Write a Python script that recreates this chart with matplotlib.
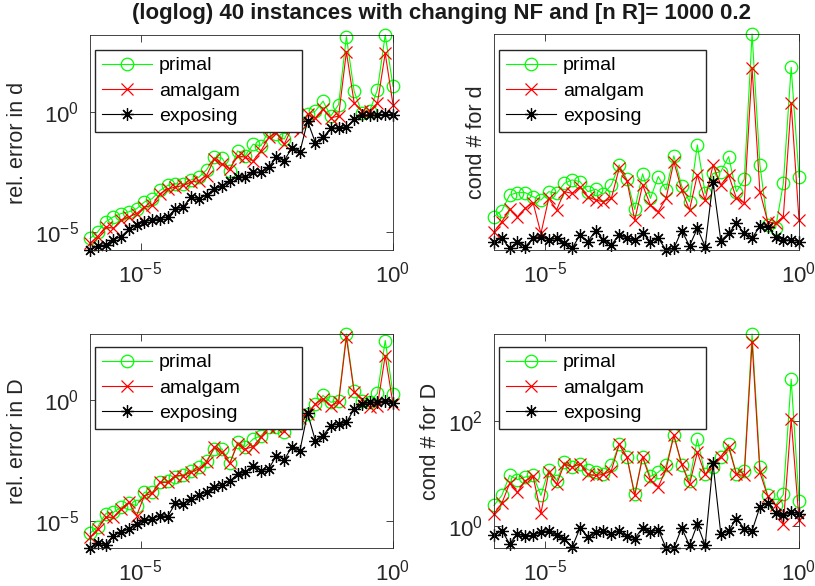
import matplotlib
matplotlib.use('Agg')
import matplotlib.pyplot as plt
import numpy as np
from matplotlib.ticker import FixedLocator, NullLocator, LogFormatterSciNotation

plt.rcParams['font.family'] = ['Liberation Sans', 'DejaVu Sans']
plt.rcParams['mathtext.fontset'] = 'custom'
plt.rcParams['mathtext.rm'] = 'Liberation Sans'
plt.rcParams['mathtext.it'] = 'Liberation Sans:italic'
plt.rcParams['mathtext.bf'] = 'Liberation Sans:bold'

# ---- data (log10 of values) ----
nf_log10 = [-6.000, -5.846, -5.692, -5.538, -5.385, -5.231, -5.077, -4.923, -4.769, -4.615,
            -4.462, -4.308, -4.154, -4.000, -3.846, -3.692, -3.538, -3.385, -3.231, -3.077,
            -2.923, -2.769, -2.615, -2.462, -2.308, -2.154, -2.000, -1.846, -1.692, -1.538,
            -1.385, -1.231, -1.077, -0.923, -0.769, -0.615, -0.462, -0.308, -0.154, 0.000]

# rel. error in d
err_d_primal = [-5.28, -5.00, -4.59, -4.38, -4.24, -4.17, -4.04, -3.76, -3.62, -3.28,
                -3.07, -3.00, -3.00, -2.84, -2.73, -2.42, -1.90, -1.93, -2.45, -1.63,
                -1.83, -1.35, -1.42, -0.80, -0.94, -1.14, -0.52, -0.45, -0.11, 0.03,
                0.44, -0.18, 0.30, 3.13, 0.85, -0.04, 0.03, 0.92, 3.20, 1.06]
err_d_amalgam = [-5.48, -5.20, -4.79, -4.86, -4.52, -4.38, -4.24, -3.97, -3.90, -3.42,
                 -3.21, -3.14, -3.07, -2.93, -2.87, -2.66, -1.97, -2.18, -2.38, -1.83,
                 -1.90, -2.04, -1.63, -1.07, -0.87, -1.35, -0.66, -0.80, -0.11, -0.25,
                 0.10, -0.25, -0.18, 2.50, 0.37, 0.03, 0.03, 0.37, 2.44, 0.30]
err_d_exposing = [-5.76, -5.59, -5.55, -5.34, -5.20, -4.90, -4.72, -4.59, -4.49, -4.45,
                  -4.38, -4.04, -3.97, -3.55, -3.62, -3.48, -3.21, -3.11, -2.87, -2.73,
                  -2.70, -2.52, -2.52, -2.31, -1.90, -2.04, -1.49, -1.69, -0.39, -1.28,
                  -1.07, -0.69, -0.66, -0.63, -0.32, -0.15, -0.15, -0.15, -0.11, -0.14]

# cond # for d
cond_d_primal = [1.239, 1.264, 1.329, 1.339, 1.339, 1.322, 1.308, 1.343, 1.336, 1.378,
                 1.392, 1.385, 1.343, 1.353, 1.333, 1.371, 1.454, 1.394, 1.269, 1.417,
                 1.315, 1.406, 1.350, 1.492, 1.367, 1.301, 1.538, 1.336, 1.419, 1.426,
                 1.489, 1.343, 1.394, 2.000, 1.454, 1.204, 1.190, 1.378, 1.861, 1.403]
cond_d_amalgam = [1.176, 1.218, 1.269, 1.239, 1.274, 1.297, 1.169, 1.315, 1.267, 1.343,
                  1.336, 1.364, 1.322, 1.308, 1.301, 1.315, 1.440, 1.389, 1.225, 1.371,
                  1.288, 1.260, 1.315, 1.468, 1.350, 1.267, 1.413, 1.308, 1.454, 1.371,
                  1.413, 1.315, 1.297, 1.857, 1.343, 1.218, 1.211, 1.239, 1.711, 1.225]
cond_d_exposing = [1.135, 1.149, 1.107, 1.135, 1.114, 1.149, 1.156, 1.142, 1.149, 1.131,
                   1.107, 1.163, 1.135, 1.181, 1.142, 1.121, 1.163, 1.149, 1.142, 1.169,
                   1.135, 1.149, 1.100, 1.107, 1.181, 1.117, 1.190, 1.114, 1.385, 1.139,
                   1.169, 1.211, 1.169, 1.149, 1.200, 1.197, 1.156, 1.142, 1.142, 1.135]

# rel. error in D
err_D_primal = [-5.52, -5.25, -4.72, -4.66, -4.45, -4.28, -4.38, -3.83, -3.83, -3.42,
                -3.35, -3.21, -3.10, -2.93, -2.80, -2.52, -2.04, -2.04, -2.63, -1.76,
                -1.94, -1.63, -1.49, -1.14, -1.14, -1.35, -0.87, -0.75, -0.59, -0.18,
                0.17, -0.11, -0.04, 2.71, 0.37, -0.04, -0.11, 0.26, 2.44, 0.23]
err_D_amalgam = [-5.69, -5.34, -4.86, -4.86, -4.52, -4.24, -4.79, -3.97, -3.87, -3.42,
                 -3.42, -3.14, -3.14, -3.00, -2.87, -2.59, -1.97, -2.18, -2.63, -1.83,
                 -2.04, -1.94, -1.56, -1.14, -1.14, -1.28, -0.87, -0.75, -0.59, -0.18,
                 0.03, -0.25, -0.11, 2.58, 0.30, 0.03, -0.32, -0.25, 1.82, -0.18]
err_D_exposing = [-6.13, -5.94, -5.99, -5.62, -5.48, -5.34, -5.14, -4.97, -4.93, -4.79,
                  -4.83, -4.28, -4.31, -4.10, -3.93, -3.83, -3.60, -3.51, -3.37, -3.07,
                  -3.00, -2.73, -2.93, -2.87, -2.31, -2.49, -1.94, -2.13, -0.56, -1.69,
                  -1.49, -1.07, -1.00, -0.94, -0.39, -0.18, -0.11, -0.11, -0.04, -0.15]

# cond # for D
cond_D_primal = [0.40, 0.59, 0.97, 0.89, 0.94, 0.97, 0.59, 1.08, 0.87, 1.22,
                 1.13, 1.19, 1.08, 1.03, 0.99, 1.16, 1.56, 1.32, 0.62, 1.33,
                 0.95, 1.03, 1.16, 1.73, 1.16, 0.87, 1.66, 0.99, 1.13, 1.32,
                 1.56, 1.00, 1.05, 3.66, 1.14, 0.59, 0.40, 0.61, 2.80, 0.49]
cond_D_amalgam = [0.24, 0.44, 0.82, 0.65, 0.87, 0.95, 0.25, 1.03, 0.80, 1.19,
                  1.13, 1.19, 0.99, 0.97, 0.99, 1.06, 1.56, 1.32, 0.59, 1.32,
                  0.89, 0.75, 1.09, 1.73, 1.19, 0.80, 1.41, 0.99, 1.19, 1.33,
                  1.51, 0.99, 0.97, 3.50, 1.03, 0.57, 0.40, 0.04, 2.04, 0.13]
cond_D_exposing = [-0.17, -0.08, -0.33, -0.14, -0.19, -0.17, -0.11, -0.08, -0.17, -0.23,
                   -0.39, -0.03, -0.20, -0.11, -0.09, -0.14, -0.09, -0.19, -0.23, -0.03,
                   -0.11, -0.06, -0.41, -0.41, -0.03, -0.36, 0.04, -0.36, 1.20, -0.14,
                   -0.09, 0.15, -0.04, -0.08, 0.37, 0.44, 0.25, 0.21, 0.27, 0.24]

series_labels = ['primal', 'amalgam', 'exposing']
ylabels = ['rel. error in d', 'cond # for d', 'rel. error in D', 'cond # for D']
title = '(loglog) 40 instances with changing NF and [n R]= 1000 0.2'

panels = [
    (err_d_primal, err_d_amalgam, err_d_exposing),
    (cond_d_primal, cond_d_amalgam, cond_d_exposing),
    (err_D_primal, err_D_amalgam, err_D_exposing),
    (cond_D_primal, cond_D_amalgam, cond_D_exposing),
]
yticks = [[1e-5, 1e0], [], [1e-5, 1e0], [1e0, 1e2]]
xticks = [1e-5, 1e0]

W, H = 815, 586
boxes = [(90, 35, 393, 250), (494, 34, 799, 250), (90, 334, 393, 548), (494, 334, 799, 548)]
leg_tl = [(95, 50), (499, 50), (95, 347), (499, 347)]
leg_w = 207

styles = [dict(color=(0, 1, 0), marker='o', ms=9, mfc='none'),
          dict(color=(1, 0, 0), marker='x', ms=8),
          dict(color='k', marker=(8, 2, 0), ms=9)]

fig = plt.figure(figsize=(W / 100, H / 100), dpi=100)
axcol = '0.15'
x = 10.0 ** np.array(nf_log10)
for k, (series, box, lt) in enumerate(zip(panels, boxes, leg_tl)):
    l, t, r, b = box
    ax = fig.add_axes([l / W, 1 - b / H, (r - l) / W, (b - t) / H])
    allv = []
    for vals, lab, st in zip(series, series_labels, styles):
        y = 10.0 ** np.array(vals)
        allv.append(y)
        ax.plot(x, y, '-', lw=0.8, mew=0.9, label=lab, clip_on=False, **st)
    ax.set_xscale('log')
    ax.set_yscale('log')
    ax.set_xlim(x.min(), x.max())
    yy = np.concatenate(allv)
    ax.set_ylim(yy.min(), yy.max())
    ax.xaxis.set_major_locator(FixedLocator(xticks))
    ax.xaxis.set_minor_locator(NullLocator())
    ax.yaxis.set_major_locator(FixedLocator(yticks[k]))
    ax.yaxis.set_minor_locator(NullLocator())
    ax.xaxis.set_major_formatter(LogFormatterSciNotation())
    ax.yaxis.set_major_formatter(LogFormatterSciNotation())
    ax.tick_params(which='both', direction='in', top=True, right=True, length=5,
                   width=0.6, color=axcol, labelsize=16, labelcolor='0.15', pad=8)
    for sp in ax.spines.values():
        sp.set_color(axcol)
        sp.set_linewidth(0.6)
    ax.set_ylabel(ylabels[k], fontsize=15.5, color='0.15', labelpad=5)
    ax.set_facecolor('white')
    lx, ly = lt
    x0 = (lx - l) / (r - l)
    ytop = 1 - (ly - t) / (b - t)
    ax.legend(loc='upper left',
              bbox_to_anchor=(x0, 0, leg_w / (r - l), ytop), mode='expand',
              borderaxespad=0, fontsize=14, frameon=True, fancybox=False,
              edgecolor=axcol, framealpha=1, handlelength=2.6, labelspacing=0.4,
              borderpad=0.35, handletextpad=0.35)

fig.text(441 / W, 1 - 14 / H, title, ha='center', va='center', fontsize=16,
         fontweight='bold', color='0.1')
fig.savefig('out.png', dpi=100)
